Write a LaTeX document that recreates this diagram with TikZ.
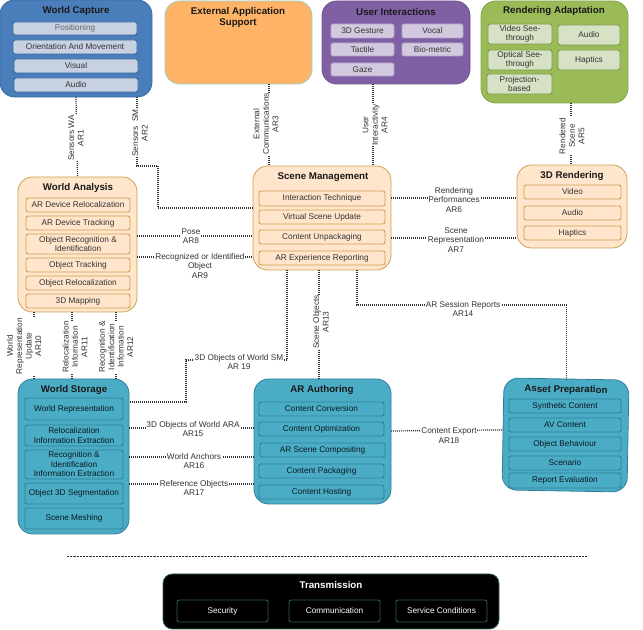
\documentclass[tikz,border=0pt]{standalone}
\usepackage{fontspec}
\setmainfont{Liberation Sans}
\usetikzlibrary{calc}
\definecolor{cwc}{HTML}{4A7EBB}\definecolor{cwcl}{HTML}{3A6A9F}\definecolor{cwcs}{HTML}{C8D1E2}
\definecolor{cext}{HTML}{FFB366}\definecolor{cextl}{HTML}{9CD0C8}
\definecolor{cui}{HTML}{8060A4}\definecolor{cuil}{HTML}{6E5490}\definecolor{cuis}{HTML}{D2C9DE}
\definecolor{cra}{HTML}{9BBB59}\definecolor{cral}{HTML}{86A64C}\definecolor{cras}{HTML}{D6E1C5}\definecolor{crasl}{HTML}{7E9A4A}
\definecolor{cpe}{HTML}{FFE5CC}\definecolor{cpel}{HTML}{CDA250}
\definecolor{cte}{HTML}{4BACC6}\definecolor{ctel}{HTML}{2F7F97}
\definecolor{ctrl}{HTML}{2F5F52}
\definecolor{cink}{HTML}{333333}
\tikzset{
  x=0.75pt,y=-0.75pt,
  outer/.style={draw,rounded corners=11pt,line width=.6pt,inner sep=0pt,outer sep=0pt},
  inner/.style={draw,rounded corners=1.6pt,line width=.7pt,inner sep=0pt,outer sep=0pt,align=center,text=cink,font=\fontsize{6.2}{7.1}\selectfont},
  oblue/.style={outer,fill=cwc,draw=cwcl},
  iblue/.style={inner,fill=cwcs,draw=cwcl},
  oorange/.style={outer,fill=cext,draw=cextl},
  opurple/.style={outer,fill=cui,draw=cuil},
  ipurple/.style={inner,fill=cuis,draw=cuis!70!cuil},
  ogreen/.style={outer,fill=cra,draw=cral},
  igreen/.style={inner,fill=cras,draw=crasl},
  opeach/.style={outer,fill=cpe,draw=cpel},
  ipeach/.style={inner,fill=cpe,draw=cpel},
  oteal/.style={outer,fill=cte,draw=ctel},
  iteal/.style={inner,fill=cte,draw=ctel,text=black!85!cte},
  oblack/.style={outer,fill=black,draw=ctrl,rounded corners=7pt},
  iblack/.style={inner,fill=black,draw=ctrl,text=white},
  ttl/.style={font=\bfseries\fontsize{7.3}{8.2}\selectfont,align=center,inner sep=0pt,text=black!90},
  conn/.style={draw=cink,line width=.9pt,dash pattern=on .75pt off .75pt},
  lab/.style={font=\fontsize{6.2}{7.1}\selectfont,align=center,fill=white,inner sep=.4pt,text=cink},
  sep/.style={draw=cink,line width=.5pt,dash pattern=on 1.6pt off .8pt},
}
\newcommand\bx[7][]{%
  \pgfmathsetmacro\bw{(#5-#3)*0.75}%
  \pgfmathsetmacro\bh{(#6-#4)*0.75}%
  \node[#1,minimum width=\bw pt,minimum height=\bh pt] (#2) at ({(#3+#5)/2},{(#4+#6)/2}) {#7};}
\begin{document}
\begin{tikzpicture}
\useasboundingbox (0,0) rectangle (643,630);
% World Capture
\bx[oblue]{wc}{0}{0}{152}{97}{}
\node[ttl] (wct) at (76,11) {World Capture};
\bx[iblue,text=black!60]{wc1}{13}{22}{137}{35}{Positioning}
\bx[iblue]{wc2}{13}{40}{137}{54}{Orientation And Movement}
\bx[iblue]{wc3}{14}{59}{138}{73}{Visual}
\bx[iblue]{wc4}{14}{78}{138}{92}{Audio}
% External
\bx[oorange]{ext}{165}{1}{312}{84}{}
\node[ttl] (extt) at (238,17.5) {External Application\\Support};
% User
\bx[opurple]{ui}{322}{1}{470}{84}{}
\node[ttl] (uit) at (396,12) {User Interactions};
\bx[ipurple]{ui1}{331}{24}{394}{38}{3D Gesture}
\bx[ipurple]{ui2}{402}{24}{463}{38}{Vocal}
\bx[ipurple]{ui3}{331}{43}{394}{56}{Tactile}
\bx[ipurple]{ui4}{402}{43}{463}{56}{Bio-metric}
\bx[ipurple]{ui5}{331}{63}{394}{76}{Gaze}
% Rendering Adaptation
\bx[ogreen]{ra}{481}{1}{628}{103}{}
\node[ttl] (rat) at (554,11) {Rendering Adaptation};
\bx[igreen]{ra1}{488}{24}{552}{44}{Video See-\\through}
\bx[igreen]{ra2}{488}{50}{552}{70}{Optical See-\\through}
\bx[igreen]{ra3}{487}{74}{552}{94}{Projection-\\based}
\bx[igreen]{ra4}{558}{25}{620}{45}{Audio}
\bx[igreen]{ra5}{558}{50}{620}{70}{Haptics}
% World Analysis
\bx[opeach]{wa}{18}{177}{137}{312}{}
\node[ttl] (wat) at (78,188) {World Analysis};
\bx[ipeach]{wa1}{26}{198}{130}{212}{AR Device Relocalization}
\bx[ipeach]{wa2}{26}{216}{130}{230}{AR Device Tracking}
\bx[ipeach]{wa3}{26}{234}{130}{254}{Object Recognition \&\\Identification}
\bx[ipeach]{wa4}{26}{258}{130}{272}{Object Tracking}
\bx[ipeach]{wa5}{26}{276}{130}{290}{Object Relocalization}
\bx[ipeach]{wa6}{26}{294}{130}{308}{3D Mapping}
% Scene Management
\bx[opeach]{sm}{253}{166}{391}{270}{}
\node[ttl] (smt) at (323,177) {Scene Management};
\bx[ipeach]{sm1}{259}{191}{385}{206}{Interaction Technique}
\bx[ipeach]{sm2}{259}{210}{385}{224}{Virtual Scene Update}
\bx[ipeach]{sm3}{259}{230}{385}{244}{Content Unpackaging}
\bx[ipeach]{sm4}{259}{251}{385}{265}{AR Experience Reporting}
% 3D Rendering
\bx[opeach]{rd}{517}{165}{627}{248}{}
\node[ttl] (rdt) at (572,176) {3D Rendering};
\bx[ipeach]{rd1}{524}{185}{621}{199}{Video}
\bx[ipeach]{rd2}{524}{206}{621}{220}{Audio}
\bx[ipeach]{rd3}{524}{226}{621}{240}{Haptics}
% World Storage
\bx[oteal]{ws}{18}{379}{129}{534}{}
\node[ttl] (wst) at (74,390) {World Storage};
\bx[iteal]{ws1}{25}{398}{123}{420}{World Representation}
\bx[iteal]{ws2}{25}{425}{123}{446}{Relocalization\\Information Extraction}
\bx[iteal]{ws3}{25}{450}{123}{479}{Recognition \&\\Identification\\Information Extraction}
\bx[iteal]{ws4}{25}{483}{123}{504}{Object 3D Segmentation}
\bx[iteal]{ws5}{25}{508}{123}{529}{Scene Meshing}
% AR Authoring
\bx[oteal]{aa}{254}{379}{391}{504}{}
\node[ttl] (aat) at (322,390) {AR Authoring};
\bx[iteal]{aa1}{259}{402}{384}{416}{Content Conversion}
\bx[iteal]{aa2}{259}{422}{384}{436}{Content Optimization}
\bx[iteal]{aa3}{260}{443}{385}{457}{AR Scene Compositing}
\bx[iteal]{aa4}{259}{464}{384}{478}{Content Packaging}
\bx[iteal]{aa5}{259}{485}{384}{499}{Content Hosting}
% Asset Preparation
\bx[oteal,rotate=-1]{ap}{503}{379}{628}{491}{}
\node[ttl,rotate=-1] (apt) at (566,390) {Asset Preparation};
\bx[iteal]{ap1}{509}{399}{621}{413}{Synthetic Content}
\bx[iteal]{ap2}{509}{418}{621}{432}{AV Content}
\bx[iteal]{ap3}{509}{437}{621}{451}{Object Behaviour}
\bx[iteal]{ap4}{509}{456}{621}{470}{Scenario}
\bx[iteal]{ap5}{509}{473}{621}{488}{Report Evaluation}
% Transmission
\bx[oblack]{tr}{163}{574}{499}{629}{}
\node[ttl,text=white] (trt) at (331,585) {Transmission};
\bx[iblack]{tr1}{177}{600}{268}{622}{Security}
\bx[iblack]{tr2}{289}{600}{380}{622}{Communication}
\bx[iblack]{tr3}{396}{600}{487}{622}{Service Conditions}
% separator
\coordinate (sepa) at (67,556);
\coordinate (sepb) at (587,556);
\draw[sep] (sepa) -- (sepb);
% connectors
\draw[conn] (wc.south) -- (wa.north);
\draw[conn] ($(wc.south west)+(137,0)$) -- ++(0,69) -- ++(21,0) |- ($(sm.west)+(0,-10)$);
\draw[conn] ($(ext.south)+(30.5,0)$) -- ($(sm.north)+(-53,0)$);
\draw[conn] ($(ui.south)+(-23,0)$) -- ($(sm.north)+(51,0)$);
\draw[conn] ($(ra.south)+(16.5,0)$) -- ($(rd.north)+(-1,0)$);
\draw[conn] ($(sm.east)+(0,-20)$) -- ($(rd.west)+(0,-8.5)$);
\draw[conn] ($(sm.east)+(0,20)$) -- ($(rd.west)+(0,31.5)$);
\draw[conn] ($(wa.east)+(0,-8.5)$) -- ($(sm.west)+(0,18)$);
\draw[conn] ($(wa.east)+(0,12.5)$) -- ($(sm.west)+(0,39)$);
\draw[conn] ($(wa.south)+(-43.5,0)$) -- ($(ws.north)+(-39.5,0)$);
\draw[conn] ($(wa.south)+(-5.5,0)$) -- ($(ws.north)+(-1.5,0)$);
\draw[conn] ($(wa.south)+(38.5,0)$) -- ($(ws.north)+(42.5,0)$);
\draw[conn] ($(sm.south)+(-3,0)$) -- ($(aa.north)+(-3.5,0)$);
\draw[conn] ($(sm.south)+(35,0)$) -- ++(0,35) -| (ap.north);
\draw[conn] ($(sm.south)+(-35,0)$) -- ++(0,90) -- ++(-101,0) |- ($(ws.east)+(0,-54.5)$);
\draw[conn] ($(ws.east)+(0,-28.5)$) -- ($(aa.west)+(0,-13.5)$);
\draw[conn] ($(ws.east)+(0,.5)$) -- ($(aa.west)+(0,15.5)$);
\draw[conn] ($(ws.east)+(0,27.5)$) -- ($(aa.west)+(0,42.5)$);
\draw[conn] ($(aa.east)+(0,-10.5)$) -- ($(ap.west)+(0,-4)$);
% labels
\node[lab,rotate=90] (l1) at (76,138) {Sensors WA\\AR1};
\node[lab,rotate=90] (l2) at (140,133) {Sensors~~SM\\AR2};
\node[lab,rotate=90] (l3) at (266,124) {External\\Communications\\AR3};
\node[lab,rotate=90] (l4) at (375,125) {User\\Interactivity\\AR4};
\node[lab,rotate=90] (l5) at (572,136) {Rendered\\Scene\\AR5};
\node[lab] (l6) at (454,200) {Rendering\\Performances\\AR6};
\node[lab] (l7) at (456,240) {Scene\\Representation\\AR7};
\node[lab] (l8) at (191,236) {Pose\\AR8};
\node[lab] (l9) at (200,266) {Recognized or Identified\\Object\\AR9};
\node[lab,rotate=90] (l10) at (24,346) {World\\Representation\\Update\\AR10};
\node[lab,rotate=90] (l11) at (75,347) {Relocalization\\Information\\AR11};
\node[lab,rotate=90] (l12) at (116,347) {Recognition \&\\Identification\\Information\\AR12};
\node[lab,rotate=90] (l13) at (321,322) {Scene Objects\\AR13};
\node[lab] (l14) at (463,309) {AR Session Reports\\AR14};
\node[lab] (l15) at (193,429) {3D Objects of World ARA\\AR15};
\node[lab] (l16) at (194,461) {World Anchors\\AR16};
\node[lab] (l17) at (194,488) {Reference Objects\\AR17};
\node[lab] (l18) at (449,435.5) {Content Export\\AR18};
\node[lab] (l19) at (239,362) {3D Objects of World SM\\AR 19};
\end{tikzpicture}
\end{document}
